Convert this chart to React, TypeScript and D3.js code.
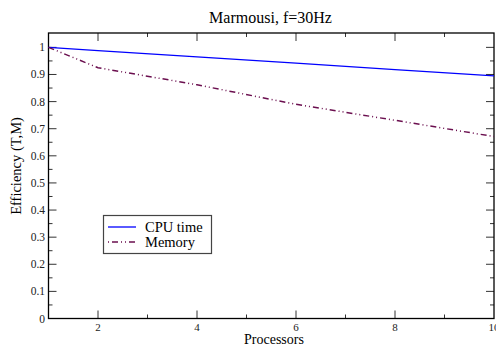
import React, { useEffect, useRef } from 'react';
import * as d3 from 'd3';

const processors = [1, 2, 4, 6, 8, 10];
const cpuTime = [1.0, 0.988, 0.965, 0.942, 0.918, 0.895];
const memory = [1.0, 0.925, 0.862, 0.79, 0.731, 0.671];
const xTicks = [2, 4, 6, 8, 10];
const yTicks = [0, 0.1, 0.2, 0.3, 0.4, 0.5, 0.6, 0.7, 0.8, 0.9, 1];

const W = 496;
const H = 346;

export default function App() {
  const ref = useRef<SVGSVGElement>(null);

  useEffect(() => {
    const svg = d3.select(ref.current);
    svg.selectAll('*').remove();

    const left = 48.5, right = 494, top = 33, bottom = 318.5;
    const x = d3.scaleLinear().domain([1, 10]).range([left, right]);
    const y = d3.scaleLinear().domain([0, 1.053]).range([bottom, top]);
    const font = '"Liberation Serif", "Times New Roman", serif';

    // ticks, all pointing inward
    const tk = svg.append('g').attr('stroke', '#333').attr('stroke-width', 1);
    d3.range(2, 10).forEach(v => {
      const len = v % 2 === 0 ? 8 : 4;
      tk.append('line').attr('x1', x(v)).attr('x2', x(v)).attr('y1', bottom).attr('y2', bottom - len);
      tk.append('line').attr('x1', x(v)).attr('x2', x(v)).attr('y1', top).attr('y2', top + len);
    });
    d3.range(1, 21).forEach(i => {
      const v = i * 0.05;
      const len = i % 2 === 0 ? 8 : 4;
      tk.append('line').attr('y1', y(v)).attr('y2', y(v)).attr('x1', left).attr('x2', left + len);
      tk.append('line').attr('y1', y(v)).attr('y2', y(v)).attr('x1', right).attr('x2', right - len);
    });

    svg.append('rect')
      .attr('x', left).attr('y', top)
      .attr('width', right - left).attr('height', bottom - top)
      .attr('fill', 'none').attr('stroke', '#000').attr('stroke-width', 1.3);

    svg.append('g').selectAll('text').data(xTicks).enter().append('text')
      .attr('x', d => x(d)).attr('y', 331)
      .attr('text-anchor', 'middle')
      .style('font-family', font).style('font-size', '11px').style('fill', '#222')
      .text(d => d);

    svg.append('g').selectAll('text').data(yTicks).enter().append('text')
      .attr('x', 45).attr('y', d => y(d) + 4)
      .attr('text-anchor', 'end')
      .style('font-family', font).style('font-size', '11.5px').style('fill', '#222')
      .text(d => d3.format('~g')(d));

    svg.append('text')
      .attr('x', 270.5).attr('y', 22.5)
      .attr('text-anchor', 'middle')
      .style('font-family', font).style('font-size', '16px')
      .text('Marmousi, f=30Hz');

    svg.append('text')
      .attr('x', 274).attr('y', 343.5)
      .attr('text-anchor', 'middle')
      .style('font-family', font).style('font-size', '14px')
      .text('Processors');

    svg.append('text')
      .attr('transform', `translate(21, 166) rotate(-90)`)
      .attr('text-anchor', 'middle')
      .style('font-family', font).style('font-size', '14.5px')
      .text('Efficiency (T,M)');

    const line = (vals: number[]) => d3.line<number>()
      .x((d, i) => x(processors[i]))
      .y(d => y(d))(vals);

    svg.append('path').attr('d', line(cpuTime))
      .attr('fill', 'none').attr('stroke', '#0000ff').attr('stroke-width', 1.3);
    svg.append('path').attr('d', line(memory))
      .attr('fill', 'none').attr('stroke', '#6b0f4f').attr('stroke-width', 1.5)
      .attr('stroke-dasharray', '6,3,1,3,1,3');

    // legend
    const lg = svg.append('g');
    lg.append('rect').attr('x', 103.5).attr('y', 215.5).attr('width', 108).attr('height', 38)
      .attr('fill', '#fff').attr('stroke', '#444').attr('stroke-width', 1.2);
    const items = [
      { label: 'CPU time', color: '#0000ff', dash: null },
      { label: 'Memory', color: '#6b0f4f', dash: '1,3,6,3,1,3' },
    ];
    items.forEach((it, i) => {
      const yy = 227 + i * 15;
      lg.append('line').attr('x1', 108).attr('x2', 136).attr('y1', yy).attr('y2', yy)
        .attr('stroke', it.color).attr('stroke-width', 1.3)
        .attr('stroke-dasharray', it.dash);
      lg.append('text').attr('x', 145).attr('y', yy + 5)
        .style('font-family', font).style('font-size', '14.5px')
        .text(it.label);
    });
  }, []);

  return (
    <svg ref={ref} width={W} height={H}
      style={{ position: 'absolute', left: 0, top: 0, background: '#fff' }} />
  );
}
